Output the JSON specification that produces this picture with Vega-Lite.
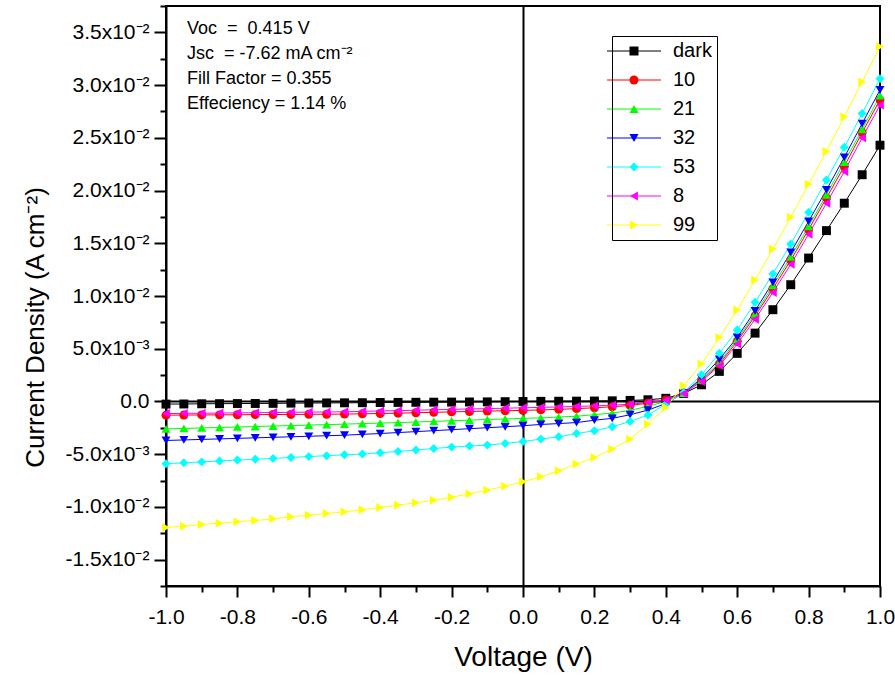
{
  "$schema": "https://vega.github.io/schema/vega-lite/v6.json",
  "width": 714,
  "height": 580,
  "autosize": {"type": "none"},
  "padding": {"left": 166, "top": 6, "right": 15, "bottom": 89},
  "config": {
    "font": "Liberation Sans",
    "view": {"stroke": "black", "strokeWidth": 2},
    "axis": {"domainColor": "black", "domainWidth": 2, "tickColor": "black", "tickWidth": 2, "labelColor": "black", "titleColor": "black", "labelFont": "Liberation Sans", "titleFont": "Liberation Sans", "titleFontWeight": "normal", "labelFontSize": 21, "titleFontSize": 26, "labelOverlap": false, "labelBound": false, "tickCount": 100}
  },
  "datasets": {"iv": [
    {"s":"dark","v":-1,"j":-0.00025},{"s":"dark","v":-0.95,"j":-0.00024},{"s":"dark","v":-0.9,"j":-0.00022},{"s":"dark","v":-0.85,"j":-0.00021},{"s":"dark","v":-0.8,"j":-0.0002},{"s":"dark","v":-0.75,"j":-0.00019},{"s":"dark","v":-0.7,"j":-0.00018},{"s":"dark","v":-0.65,"j":-0.00016},{"s":"dark","v":-0.6,"j":-0.00015},{"s":"dark","v":-0.55,"j":-0.00014},{"s":"dark","v":-0.5,"j":-0.00013},{"s":"dark","v":-0.45,"j":-0.00012},{"s":"dark","v":-0.4,"j":-0.0001},{"s":"dark","v":-0.35,"j":-0.00009},{"s":"dark","v":-0.3,"j":-0.00008},{"s":"dark","v":-0.25,"j":-0.00007},{"s":"dark","v":-0.2,"j":-0.00006},{"s":"dark","v":-0.15,"j":-0.00005},{"s":"dark","v":-0.1,"j":-0.00004},{"s":"dark","v":-0.05,"j":-0.00002},{"s":"dark","v":0,"j":0},{"s":"dark","v":0.05,"j":0.00001},{"s":"dark","v":0.1,"j":0.00002},{"s":"dark","v":0.15,"j":0.00003},{"s":"dark","v":0.2,"j":0.00004},{"s":"dark","v":0.25,"j":0.00006},{"s":"dark","v":0.3,"j":0.0001},{"s":"dark","v":0.35,"j":0.00016},{"s":"dark","v":0.4,"j":0.0003},{"s":"dark","v":0.45,"j":0.00076},{"s":"dark","v":0.5,"j":0.00158},{"s":"dark","v":0.55,"j":0.00285},{"s":"dark","v":0.6,"j":0.00456},{"s":"dark","v":0.65,"j":0.00648},{"s":"dark","v":0.7,"j":0.0087},{"s":"dark","v":0.75,"j":0.01107},{"s":"dark","v":0.8,"j":0.0136},{"s":"dark","v":0.85,"j":0.0162},{"s":"dark","v":0.9,"j":0.0188},{"s":"dark","v":0.95,"j":0.0215},{"s":"dark","v":1,"j":0.0243},
    {"s":"10","v":-1,"j":-0.0013},{"s":"10","v":-0.95,"j":-0.00129},{"s":"10","v":-0.9,"j":-0.00128},{"s":"10","v":-0.85,"j":-0.00127},{"s":"10","v":-0.8,"j":-0.00126},{"s":"10","v":-0.75,"j":-0.00125},{"s":"10","v":-0.7,"j":-0.00124},{"s":"10","v":-0.65,"j":-0.00123},{"s":"10","v":-0.6,"j":-0.00122},{"s":"10","v":-0.55,"j":-0.00121},{"s":"10","v":-0.5,"j":-0.0012},{"s":"10","v":-0.45,"j":-0.00117},{"s":"10","v":-0.4,"j":-0.00114},{"s":"10","v":-0.35,"j":-0.00111},{"s":"10","v":-0.3,"j":-0.00107},{"s":"10","v":-0.25,"j":-0.00103},{"s":"10","v":-0.2,"j":-0.00099},{"s":"10","v":-0.15,"j":-0.00095},{"s":"10","v":-0.1,"j":-0.00091},{"s":"10","v":-0.05,"j":-0.00088},{"s":"10","v":0,"j":-0.00085},{"s":"10","v":0.05,"j":-0.0008},{"s":"10","v":0.1,"j":-0.00075},{"s":"10","v":0.15,"j":-0.00068},{"s":"10","v":0.2,"j":-0.0006},{"s":"10","v":0.25,"j":-0.0005},{"s":"10","v":0.3,"j":-0.00038},{"s":"10","v":0.35,"j":-0.00016},{"s":"10","v":0.4,"j":0.00013},{"s":"10","v":0.45,"j":0.0008},{"s":"10","v":0.5,"j":0.002},{"s":"10","v":0.55,"j":0.00355},{"s":"10","v":0.6,"j":0.0057},{"s":"10","v":0.65,"j":0.0081},{"s":"10","v":0.7,"j":0.0107},{"s":"10","v":0.75,"j":0.0134},{"s":"10","v":0.8,"j":0.0163},{"s":"10","v":0.85,"j":0.0193},{"s":"10","v":0.9,"j":0.0223},{"s":"10","v":0.95,"j":0.0255},{"s":"10","v":1,"j":0.0286},
    {"s":"21","v":-1,"j":-0.0026},{"s":"21","v":-0.95,"j":-0.00256},{"s":"21","v":-0.9,"j":-0.00251},{"s":"21","v":-0.85,"j":-0.00247},{"s":"21","v":-0.8,"j":-0.00242},{"s":"21","v":-0.75,"j":-0.00238},{"s":"21","v":-0.7,"j":-0.00233},{"s":"21","v":-0.65,"j":-0.00229},{"s":"21","v":-0.6,"j":-0.00224},{"s":"21","v":-0.55,"j":-0.0022},{"s":"21","v":-0.5,"j":-0.00215},{"s":"21","v":-0.45,"j":-0.0021},{"s":"21","v":-0.4,"j":-0.00205},{"s":"21","v":-0.35,"j":-0.002},{"s":"21","v":-0.3,"j":-0.00195},{"s":"21","v":-0.25,"j":-0.00189},{"s":"21","v":-0.2,"j":-0.00183},{"s":"21","v":-0.15,"j":-0.00177},{"s":"21","v":-0.1,"j":-0.00171},{"s":"21","v":-0.05,"j":-0.00166},{"s":"21","v":0,"j":-0.0016},{"s":"21","v":0.05,"j":-0.00156},{"s":"21","v":0.1,"j":-0.00148},{"s":"21","v":0.15,"j":-0.0014},{"s":"21","v":0.2,"j":-0.00125},{"s":"21","v":0.25,"j":-0.0011},{"s":"21","v":0.3,"j":-0.00085},{"s":"21","v":0.35,"j":-0.00045},{"s":"21","v":0.4,"j":0},{"s":"21","v":0.45,"j":0.0008},{"s":"21","v":0.5,"j":0.00205},{"s":"21","v":0.55,"j":0.0037},{"s":"21","v":0.6,"j":0.0059},{"s":"21","v":0.65,"j":0.0083},{"s":"21","v":0.7,"j":0.011},{"s":"21","v":0.75,"j":0.0137},{"s":"21","v":0.8,"j":0.0166},{"s":"21","v":0.85,"j":0.0196},{"s":"21","v":0.9,"j":0.0227},{"s":"21","v":0.95,"j":0.0258},{"s":"21","v":1,"j":0.029},
    {"s":"32","v":-1,"j":-0.0037},{"s":"32","v":-0.95,"j":-0.00365},{"s":"32","v":-0.9,"j":-0.0036},{"s":"32","v":-0.85,"j":-0.00355},{"s":"32","v":-0.8,"j":-0.0035},{"s":"32","v":-0.75,"j":-0.00345},{"s":"32","v":-0.7,"j":-0.0034},{"s":"32","v":-0.65,"j":-0.00335},{"s":"32","v":-0.6,"j":-0.0033},{"s":"32","v":-0.55,"j":-0.00325},{"s":"32","v":-0.5,"j":-0.0032},{"s":"32","v":-0.45,"j":-0.00312},{"s":"32","v":-0.4,"j":-0.00304},{"s":"32","v":-0.35,"j":-0.00295},{"s":"32","v":-0.3,"j":-0.00286},{"s":"32","v":-0.25,"j":-0.00277},{"s":"32","v":-0.2,"j":-0.00268},{"s":"32","v":-0.15,"j":-0.00258},{"s":"32","v":-0.1,"j":-0.00249},{"s":"32","v":-0.05,"j":-0.0024},{"s":"32","v":0,"j":-0.0023},{"s":"32","v":0.05,"j":-0.00218},{"s":"32","v":0.1,"j":-0.0021},{"s":"32","v":0.15,"j":-0.002},{"s":"32","v":0.2,"j":-0.00178},{"s":"32","v":0.25,"j":-0.0016},{"s":"32","v":0.3,"j":-0.00126},{"s":"32","v":0.35,"j":-0.00082},{"s":"32","v":0.4,"j":-0.0002},{"s":"32","v":0.45,"j":0.0008},{"s":"32","v":0.5,"j":0.0022},{"s":"32","v":0.55,"j":0.004},{"s":"32","v":0.6,"j":0.00607},{"s":"32","v":0.65,"j":0.0086},{"s":"32","v":0.7,"j":0.0113},{"s":"32","v":0.75,"j":0.01414},{"s":"32","v":0.8,"j":0.01708},{"s":"32","v":0.85,"j":0.02006},{"s":"32","v":0.9,"j":0.02315},{"s":"32","v":0.95,"j":0.02635},{"s":"32","v":1,"j":0.02955},
    {"s":"53","v":-1,"j":-0.0059},{"s":"53","v":-0.95,"j":-0.00582},{"s":"53","v":-0.9,"j":-0.00573},{"s":"53","v":-0.85,"j":-0.00565},{"s":"53","v":-0.8,"j":-0.00556},{"s":"53","v":-0.75,"j":-0.00548},{"s":"53","v":-0.7,"j":-0.0054},{"s":"53","v":-0.65,"j":-0.00531},{"s":"53","v":-0.6,"j":-0.00523},{"s":"53","v":-0.55,"j":-0.00514},{"s":"53","v":-0.5,"j":-0.00506},{"s":"53","v":-0.45,"j":-0.00499},{"s":"53","v":-0.4,"j":-0.00487},{"s":"53","v":-0.35,"j":-0.00474},{"s":"53","v":-0.3,"j":-0.00461},{"s":"53","v":-0.25,"j":-0.00446},{"s":"53","v":-0.2,"j":-0.00433},{"s":"53","v":-0.15,"j":-0.00423},{"s":"53","v":-0.1,"j":-0.00414},{"s":"53","v":-0.05,"j":-0.00398},{"s":"53","v":0,"j":-0.0038},{"s":"53","v":0.05,"j":-0.00357},{"s":"53","v":0.1,"j":-0.00335},{"s":"53","v":0.15,"j":-0.00304},{"s":"53","v":0.2,"j":-0.00278},{"s":"53","v":0.25,"j":-0.0024},{"s":"53","v":0.3,"j":-0.0019},{"s":"53","v":0.35,"j":-0.00129},{"s":"53","v":0.4,"j":-0.00025},{"s":"53","v":0.45,"j":0.00085},{"s":"53","v":0.5,"j":0.00253},{"s":"53","v":0.55,"j":0.00456},{"s":"53","v":0.6,"j":0.00677},{"s":"53","v":0.65,"j":0.0094},{"s":"53","v":0.7,"j":0.0121},{"s":"53","v":0.75,"j":0.01493},{"s":"53","v":0.8,"j":0.01793},{"s":"53","v":0.85,"j":0.021},{"s":"53","v":0.9,"j":0.0241},{"s":"53","v":0.95,"j":0.0273},{"s":"53","v":1,"j":0.0306},
    {"s":"8","v":-1,"j":-0.00115},{"s":"8","v":-0.95,"j":-0.00113},{"s":"8","v":-0.9,"j":-0.00112},{"s":"8","v":-0.85,"j":-0.0011},{"s":"8","v":-0.8,"j":-0.00108},{"s":"8","v":-0.75,"j":-0.00107},{"s":"8","v":-0.7,"j":-0.00105},{"s":"8","v":-0.65,"j":-0.00103},{"s":"8","v":-0.6,"j":-0.00101},{"s":"8","v":-0.55,"j":-0.001},{"s":"8","v":-0.5,"j":-0.00098},{"s":"8","v":-0.45,"j":-0.00094},{"s":"8","v":-0.4,"j":-0.0009},{"s":"8","v":-0.35,"j":-0.00087},{"s":"8","v":-0.3,"j":-0.00083},{"s":"8","v":-0.25,"j":-0.00079},{"s":"8","v":-0.2,"j":-0.00075},{"s":"8","v":-0.15,"j":-0.00071},{"s":"8","v":-0.1,"j":-0.00068},{"s":"8","v":-0.05,"j":-0.00064},{"s":"8","v":0,"j":-0.0006},{"s":"8","v":0.05,"j":-0.00056},{"s":"8","v":0.1,"j":-0.00052},{"s":"8","v":0.15,"j":-0.00047},{"s":"8","v":0.2,"j":-0.00042},{"s":"8","v":0.25,"j":-0.00035},{"s":"8","v":0.3,"j":-0.00026},{"s":"8","v":0.35,"j":-0.0001},{"s":"8","v":0.4,"j":0.00012},{"s":"8","v":0.45,"j":0.00075},{"s":"8","v":0.5,"j":0.0019},{"s":"8","v":0.55,"j":0.0034},{"s":"8","v":0.6,"j":0.00544},{"s":"8","v":0.65,"j":0.0078},{"s":"8","v":0.7,"j":0.01034},{"s":"8","v":0.75,"j":0.013},{"s":"8","v":0.8,"j":0.01585},{"s":"8","v":0.85,"j":0.0188},{"s":"8","v":0.9,"j":0.0218},{"s":"8","v":0.95,"j":0.025},{"s":"8","v":1,"j":0.0281},
    {"s":"99","v":-1,"j":-0.01195},{"s":"99","v":-0.95,"j":-0.01183},{"s":"99","v":-0.9,"j":-0.01167},{"s":"99","v":-0.85,"j":-0.01154},{"s":"99","v":-0.8,"j":-0.01141},{"s":"99","v":-0.75,"j":-0.01129},{"s":"99","v":-0.7,"j":-0.01113},{"s":"99","v":-0.65,"j":-0.01094},{"s":"99","v":-0.6,"j":-0.01078},{"s":"99","v":-0.55,"j":-0.01062},{"s":"99","v":-0.5,"j":-0.01046},{"s":"99","v":-0.45,"j":-0.01027},{"s":"99","v":-0.4,"j":-0.01005},{"s":"99","v":-0.35,"j":-0.00983},{"s":"99","v":-0.3,"j":-0.00961},{"s":"99","v":-0.25,"j":-0.00936},{"s":"99","v":-0.2,"j":-0.00908},{"s":"99","v":-0.15,"j":-0.00876},{"s":"99","v":-0.1,"j":-0.00841},{"s":"99","v":-0.05,"j":-0.00803},{"s":"99","v":0,"j":-0.00762},{"s":"99","v":0.05,"j":-0.00714},{"s":"99","v":0.1,"j":-0.00657},{"s":"99","v":0.15,"j":-0.00594},{"s":"99","v":0.2,"j":-0.00531},{"s":"99","v":0.25,"j":-0.00452},{"s":"99","v":0.3,"j":-0.00357},{"s":"99","v":0.35,"j":-0.00215},{"s":"99","v":0.4,"j":-0.00057},{"s":"99","v":0.45,"j":0.00149},{"s":"99","v":0.5,"j":0.00355},{"s":"99","v":0.55,"j":0.00607},{"s":"99","v":0.6,"j":0.00867},{"s":"99","v":0.65,"j":0.01152},{"s":"99","v":0.7,"j":0.01446},{"s":"99","v":0.75,"j":0.01746},{"s":"99","v":0.8,"j":0.0206},{"s":"99","v":0.85,"j":0.0237},{"s":"99","v":0.9,"j":0.027},{"s":"99","v":0.95,"j":0.0303},{"s":"99","v":1,"j":0.03365}
  ]},
  "resolve": {"legend": {"color": "independent", "shape": "independent"}},
  "layer": [
    {"data": {"name": "iv"}, "mark": {"type": "line", "strokeWidth": 1},
      "encoding": {
        "x": {"field": "v", "type": "quantitative", "title": "Voltage (V)",
          "scale": {"domain": [-1, 1], "nice": false, "zero": false},
          "axis": {"values": [-1,-0.9,-0.8,-0.7,-0.6,-0.5,-0.4,-0.3,-0.2,-0.1,0,0.1,0.2,0.3,0.4,0.5,0.6,0.7,0.8,0.9,1],
            "tickCount": 100,
            "labelExpr": "round(datum.value*10)%2 != 0 ? '' : replace(format(datum.value, '.1f'), '\u2212', '-')",
            "tickSize": {"condition": {"test": "round(datum.value*10)%2 != 0", "value": 6}, "value": 11},
            "grid": true, "gridColor": "black", "gridWidth": 2,
            "gridOpacity": {"condition": {"test": "abs(datum.value) < 0.001", "value": 1}, "value": 0},
            "labelPadding": 9, "labelFlush": false, "labelFontSize": 21,
            "titleX": 357, "titleY": 71, "titleBaseline": "middle", "titleAlign": "center", "titleFontSize": 28}},
        "y": {"field": "j", "type": "quantitative", "title": "Current Density (A cm\u207b\u00b2)",
          "scale": {"domain": [-0.0175, 0.0375], "nice": false, "zero": false},
          "axis": {"values": [-0.0175,-0.015,-0.0125,-0.01,-0.0075,-0.005,-0.0025,0,0.0025,0.005,0.0075,0.01,0.0125,0.015,0.0175,0.02,0.0225,0.025,0.0275,0.03,0.0325,0.035,0.0375],
            "tickCount": 100,
            "labelExpr": "round(datum.value*10000)%50 != 0 ? '' : (round(datum.value*10000) == 0 ? '0.0' : (abs(round(datum.value*10000)) >= 100 ? (datum.value < 0 ? '-' : '') + format(abs(round(datum.value*10000))/100, '.1f') + 'x10\u207b\u00b2' : (datum.value < 0 ? '-' : '') + format(abs(round(datum.value*10000))/10, '.1f') + 'x10\u207b\u00b3'))",
            "tickSize": {"condition": {"test": "round(datum.value*10000)%50 != 0", "value": 6}, "value": 12},
            "grid": true, "gridColor": "black", "gridWidth": 2,
            "gridOpacity": {"condition": {"test": "abs(datum.value) < 0.000001", "value": 1}, "value": 0},
            "labelPadding": 5, "labelFlush": false,
            "titleX": -131, "titleY": 321, "titleBaseline": "middle", "titleAlign": "center", "titleAngle": -90}},
        "color": {"field": "s", "type": "nominal",
          "scale": {"domain": ["dark","10","21","32","53","8","99"], "range": ["#000000","#ff0000","#00ff00","#0000ff","#00ffff","#ff00ff","#ffff00"]},
          "legend": {"title": null, "orient": "none", "legendX": 446, "legendY": 30, "symbolType": "M-6,0H6", "symbolSize": 81, "symbolStrokeWidth": 1, "labelFontSize": 20, "labelOpacity": 0, "padding": 5, "rowPadding": 9, "symbolOffset": 7, "labelOffset": 29, "labelFont": "Liberation Sans"}}
      }},
    {"data": {"name": "iv"}, "mark": {"type": "point", "filled": true, "size": 80, "opacity": 1},
      "encoding": {
        "x": {"field": "v", "type": "quantitative", "title": "Voltage (V)", "scale": {"domain": [-1, 1], "nice": false, "zero": false}},
        "y": {"field": "j", "type": "quantitative", "title": "Current Density (A cm\u207b\u00b2)", "scale": {"domain": [-0.0175, 0.0375], "nice": false, "zero": false}},
        "color": {"field": "s", "type": "nominal",
          "scale": {"domain": ["dark","10","21","32","53","8","99"], "range": ["#000000","#ff0000","#00ff00","#0000ff","#00ffff","#ff00ff","#ffff00"]},
          "legend": {"title": null, "orient": "none", "legendX": 446, "legendY": 30, "symbolSize": 81, "labelFontSize": 20, "labelColor": "black", "padding": 5, "rowPadding": 9, "symbolOffset": 7, "labelOffset": 29, "strokeColor": "black", "labelFont": "Liberation Sans"}},
        "shape": {"field": "s", "type": "nominal",
          "scale": {"domain": ["dark","10","21","32","53","8","99"], "range": ["square","circle","triangle-up","triangle-down","diamond","triangle-left","triangle-right"]},
          "legend": {"title": null, "orient": "none", "legendX": 446, "legendY": 30, "symbolSize": 81, "labelFontSize": 20, "labelColor": "black", "padding": 5, "rowPadding": 9, "symbolOffset": 7, "labelOffset": 29, "strokeColor": "black", "labelFont": "Liberation Sans"}}
      }},
    {"data": {"values": [{}]},
      "mark": {"type": "text", "align": "left", "baseline": "top", "fontSize": 18, "lineHeight": 25, "font": "Liberation Sans", "color": "black",
        "text": ["Voc\u00a0\u00a0=\u00a0\u00a00.415 V", "Jsc\u00a0\u00a0= -7.62 mA cm\u207b\u00b2", "Fill Factor = 0.355", "Effeciency = 1.14 %"]},
      "encoding": {"x": {"datum": -0.941}, "y": {"datum": 0.0362}}}
  ]
}
